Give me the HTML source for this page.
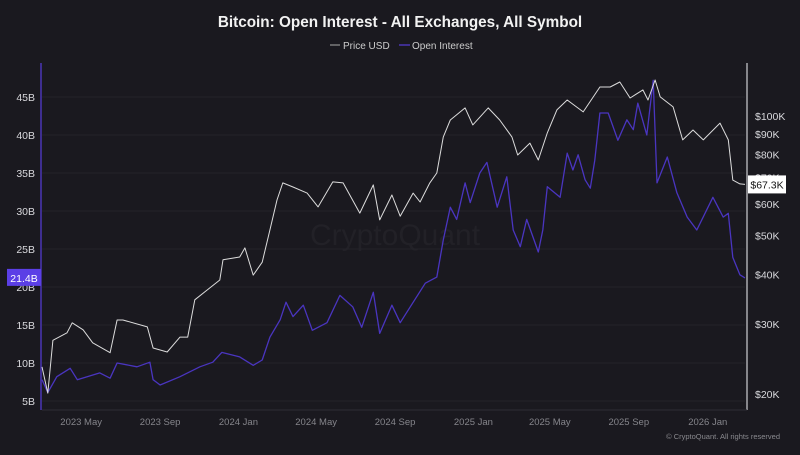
<!DOCTYPE html>
<html><head><meta charset="utf-8"><style>
html,body{margin:0;padding:0;background:#1a191f;}
body{width:800px;height:450px;overflow:hidden;font-family:"Liberation Sans",sans-serif;}
</style></head><body>
<svg id="chart" width="800" height="450" xmlns="http://www.w3.org/2000/svg">
<rect width="800" height="450" fill="#1a191f"/>
<text x="400" y="27" text-anchor="middle" fill="#f2f2f2" font-size="15.3" font-weight="bold">Bitcoin: Open Interest - All Exchanges, All Symbol</text>
<g>
<g><line x1="330" y1="45" x2="340" y2="45" stroke="#aaa" stroke-width="1"/><text x="343" y="49" fill="#ccc" font-size="10">Price USD</text></g>
<g><line x1="399" y1="45" x2="410" y2="45" stroke="#4a35b5" stroke-width="1.5"/><text x="412" y="49" fill="#ccc" font-size="10">Open Interest</text></g>
</g>
<text x="395" y="245" text-anchor="middle" fill="#222127" font-size="30">CryptoQuant</text>
<g id="grid"></g>
<g id="axes"></g>
<g id="series"></g>
<text x="780" y="439" text-anchor="end" fill="#8a8a8f" font-size="7.5">© CryptoQuant. All rights reserved</text>
</svg>
<script>
const oiTicks=[5,10,15,20,25,30,35,40,45];
const priceTicks=[20,30,40,50,60,70,80,90,100];
const dateTickLabels=["2023 May","2023 Sep","2024 Jan","2024 May","2024 Sep","2025 Jan","2025 May","2025 Sep","2026 Jan"];
const dateTickDays=[61,184,306,427,550,672,791,914,1037];
const priceDays=[0,9,17,39,47,64,79,106,117,126,164,173,195,215,227,238,257,277,282,308,316,329,343,355,366,375,391,413,430,453,469,495,516,526,545,558,578,589,604,615,625,636,659,671,695,713,732,741,760,773,787,802,818,843,869,885,900,916,936,944,955,963,983,998,1014,1030,1056,1069,1076,1087,1095];
const priceValues=[23.4,20.1,27.3,28.5,30.2,29.0,26.9,25.4,30.7,30.7,29.5,26.1,25.5,27.8,27.8,34.5,36.5,38.7,43.5,44.2,46.6,39.8,42.9,51.7,61.5,67.9,66.3,64.0,59.1,68.3,67.9,57.0,67.1,54.8,63.3,56.0,64.0,60.8,67.9,71.9,88.6,97.7,104.8,95.0,104.8,97.7,88.6,79.8,85.5,77.5,90.7,103.6,109.7,102.4,118.3,118.3,121.8,111.0,116.3,109.7,123.2,111.7,105.4,87.1,92.2,87.1,96.0,87.1,69.0,67.5,67.3];
const oiDays=[0,9,23,44,55,90,106,117,148,168,173,184,215,246,266,280,308,329,343,355,371,380,391,407,421,444,464,484,498,516,526,545,558,597,615,625,636,646,659,667,682,693,709,724,734,745,755,773,780,787,807,818,827,835,846,854,861,869,882,897,911,921,928,942,952,958,974,989,1005,1020,1045,1061,1069,1076,1087,1095];
const oiValues=[7.8,6.1,8.2,9.3,7.8,8.7,8.0,10.0,9.5,10.1,7.8,7.1,8.2,9.5,10.1,11.4,10.8,9.7,10.4,13.4,15.7,18.0,16.1,17.6,14.3,15.3,18.9,17.4,14.7,19.3,13.9,17.6,15.3,20.5,21.3,26.2,30.5,28.9,33.7,31.1,35.0,36.4,30.5,34.5,27.5,25.3,28.9,24.6,27.5,33.2,31.8,37.6,35.4,37.4,34.1,33.0,36.7,42.9,42.9,39.3,42.0,40.7,44.2,40.0,47.2,33.7,37.1,32.4,29.2,27.5,31.8,29.2,29.7,23.9,21.6,21.2];
const lastPriceLabel="$67.3K", lastOiLabel="21.4B";

const NS="http://www.w3.org/2000/svg";
const xScale=d=>42+d*0.642;
const yOI=v=>439-v*7.6;
const yPrice=p=>394-397.7*Math.log10(p/20);
function mk(tag,attrs,parent,txt){const e=document.createElementNS(NS,tag);for(const k in attrs)e.setAttribute(k,attrs[k]);if(txt!==undefined)e.textContent=txt;parent.appendChild(e);return e;}
const grid=document.getElementById('grid'),axes=document.getElementById('axes'),series=document.getElementById('series');
oiTicks.forEach(v=>{
  const l=mk('line',{x1:42,x2:745,y1:yOI(v),y2:yOI(v),stroke:'#24232a','stroke-width':1},grid);
  
  
  const t=mk('text',{x:35,y:yOI(v)+4,'text-anchor':'end',fill:'#d8d8dc','font-size':10.5},axes,v+'B');
  
  
});
priceTicks.forEach(p=>{
  const t=mk('text',{x:755,y:yPrice(p)+4,fill:'#d8d8dc','font-size':10.5},axes,'$'+p+'K');
  
  
});
dateTickDays.forEach((d,i)=>{
  const t=mk('text',{x:xScale(d),y:425,'text-anchor':'middle',fill:'#85858b','font-size':9.5},axes,dateTickLabels[i]);
  
  
});
const la=mk('line',{x1:41,x2:41,y1:63,y2:410,stroke:'#4a35b5','stroke-width':1.5},axes);


const ra=mk('line',{x1:747,x2:747,y1:63,y2:410,stroke:'#aaaaaf','stroke-width':1.5},axes);


const ba=mk('line',{x1:42,x2:747,y1:410,y2:410,stroke:'#2e2d35','stroke-width':1},axes);


const oiPath=mk('polyline',{points:oiDays.map((d,i)=>xScale(d).toFixed(1)+','+yOI(oiValues[i]).toFixed(1)).join(' '),fill:'none',stroke:'#4a35c0','stroke-width':1.3,'stroke-linejoin':'round'},series);


const pPath=mk('polyline',{points:priceDays.map((d,i)=>xScale(d).toFixed(1)+','+yPrice(priceValues[i]).toFixed(1)).join(' '),fill:'none',stroke:'#dcdcdc','stroke-width':1,'stroke-linejoin':'round'},series);


const oy=yOI(oiValues[oiValues.length-1]);
const ob=mk('rect',{x:7,y:oy-9,width:34,height:17,fill:'#5b3fe6'},axes);


const ot=mk('text',{x:24,y:oy+4,'text-anchor':'middle',fill:'#fff','font-size':10.5},axes,lastOiLabel);


const py=yPrice(priceValues[priceValues.length-1]);
const pb=mk('rect',{x:748,y:py-9,width:38,height:18,fill:'#ffffff'},axes);


const pt=mk('text',{x:767,y:py+4,'text-anchor':'middle',fill:'#111','font-size':10.5},axes,lastPriceLabel);


</script>
</body></html>
